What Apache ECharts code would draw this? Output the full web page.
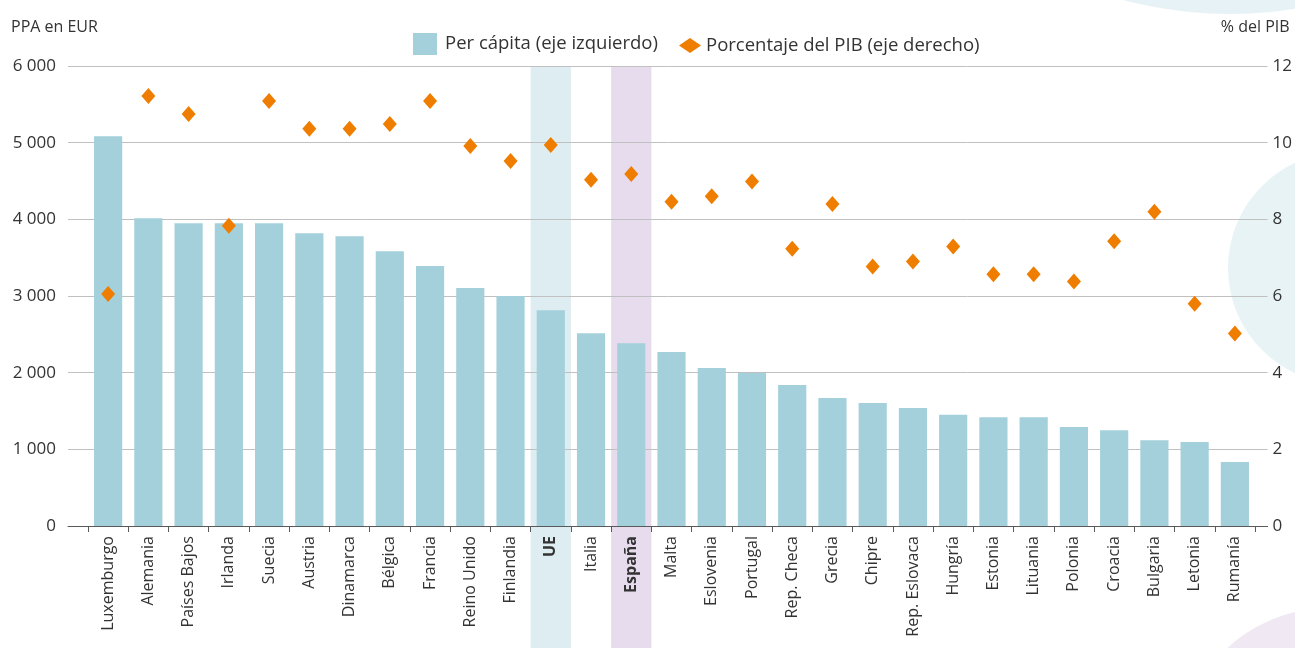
<!DOCTYPE html>
<html>
<head>
<meta charset="utf-8">
<script src="https://cdn.jsdelivr.net/npm/echarts@6/dist/echarts.min.js"></script>
<style>html,body{margin:0;padding:0;background:#fff}#c{width:1295px;height:648px}</style>
</head>
<body>
<div id="c"></div>
<script>
const categories = ['Luxemburgo','Alemania','Países Bajos','Irlanda','Suecia','Austria','Dinamarca','Bélgica','Francia','Reino Unido','Finlandia','UE','Italia','España','Malta','Eslovenia','Portugal','Rep. Checa','Grecia','Chipre','Rep. Eslovaca','Hungría','Estonia','Lituania','Polonia','Croacia','Bulgaria','Letonia','Rumanía'];
const perCapita = [5085,4015,3950,3950,3950,3820,3780,3585,3390,3105,3000,2815,2515,2385,2270,2060,1995,1840,1670,1605,1540,1450,1420,1420,1290,1250,1120,1095,835];
const pctPIB = [6.05,11.22,10.75,7.83,11.09,10.36,10.36,10.49,11.09,9.91,9.52,9.94,9.03,9.18,8.46,8.60,8.99,7.23,8.40,6.77,6.90,7.29,6.57,6.57,6.38,7.43,8.20,5.80,5.02];
const highlighted = ['UE','España'];
const highlightColors = {'UE':'#deedf2','España':'#e7dcee'};
const leftTicks = [0,1000,2000,3000,4000,5000,6000];
const rightTicks = [0,2,4,6,8,10,12];

const FONT = 'Open Sans';
const TXT = '#333333';
const chart = echarts.init(document.getElementById('c'), null, {renderer:'canvas'});

const highlightData = categories.map(c => highlighted.includes(c) ? {value:1, itemStyle:{color:highlightColors[c]}} : null);

chart.setOption({
  backgroundColor:'#ffffff',
  textStyle:{fontFamily:FONT},
  graphic:[
    {type:'circle', shape:{cx:1230, cy:-400, r:414}, style:{fill:'#e6f2f6'}, z:-10, silent:true},
    {type:'circle', shape:{cx:1344, cy:268, r:116}, style:{fill:'#e8f3f6'}, z:-10, silent:true},
    {type:'circle', shape:{cx:1330, cy:760, r:152}, style:{fill:'#f0e9f4'}, z:-10, silent:true}
  ],
  legend:[
    {data:['Per cápita (eje izquierdo)'], left:413, top:33, padding:0, itemWidth:24, itemHeight:22, itemGap:10,
     textStyle:{fontFamily:FONT, fontSize:18.5, color:TXT, padding:[0,0,0,3]}, icon:'rect'},
    {data:['Porcentaje del PIB (eje derecho)'], left:679, top:36, padding:0, itemWidth:22, itemHeight:15,
     textStyle:{fontFamily:FONT, fontSize:18.5, color:TXT}, icon:'diamond'}
  ],
  grid:[
    {left:68, right:27, top:66, bottom:122},
    {left:88, right:40, top:66, bottom:122},
    {left:88, right:40, top:66, bottom:0}
  ],
  xAxis:[
    {gridIndex:0, type:'value', min:0, max:1, axisLine:{show:true, onZero:false, lineStyle:{color:'#595959', width:1}},
     axisTick:{show:false}, axisLabel:{show:false}, splitLine:{show:false}, z:3},
    {gridIndex:1, type:'category', data:categories, axisLine:{show:false},
     axisTick:{show:true, length:6, lineStyle:{color:'#595959'}},
     axisLabel:{rotate:90, margin:10, fontFamily:FONT, fontSize:16, color:TXT,
       formatter:v => highlighted.includes(v) ? '{b|'+v+'}' : v,
       rich:{b:{fontWeight:'bold', fontFamily:FONT, fontSize:16, color:TXT}}}, z:3},
    {gridIndex:2, type:'category', data:categories, show:false}
  ],
  yAxis:[
    {gridIndex:0, type:'value', min:0, max:6000, interval:1000, position:'left',
     name:'PPA en EUR', nameLocation:'end', nameGap:31,
     nameTextStyle:{fontFamily:FONT, fontSize:16, color:TXT, align:'left', padding:[0,0,0,-57]},
     axisLine:{show:false}, axisTick:{show:false},
     axisLabel:{margin:12, fontFamily:FONT, fontSize:17, color:TXT,
       formatter:v => leftTicks.includes(v) ? String(v).replace(/\B(?=(\d{3})+(?!\d))/g,' ') : ''},
     splitLine:{show:true, lineStyle:{color:'#c0c0c0', width:1}}, z:3},
    {gridIndex:0, type:'value', min:0, max:12, interval:2, position:'right',
     name:'% del PIB', nameLocation:'end', nameGap:31,
     nameTextStyle:{fontFamily:FONT, fontSize:16, color:TXT, align:'right', padding:[0,-22,0,0]},
     axisLine:{show:false}, axisTick:{show:false},
     axisLabel:{margin:5, fontFamily:FONT, fontSize:17, color:TXT,
       formatter:v => rightTicks.includes(v) ? String(v) : ''},
     splitLine:{show:false}},
    {gridIndex:1, type:'value', min:0, max:6000, show:false},
    {gridIndex:1, type:'value', min:0, max:12, show:false},
    {gridIndex:2, type:'value', min:0, max:1, show:false}
  ],
  series:[
    {type:'bar', name:'highlight', xAxisIndex:2, yAxisIndex:4, data:highlightData, barWidth:'100%',
     silent:true, z:0, legendHoverLink:false},
    {type:'bar', name:'Per cápita (eje izquierdo)', xAxisIndex:1, yAxisIndex:2, data:perCapita,
     barWidth:'70%', itemStyle:{color:'#a3d0db'}, z:4},
    {type:'scatter', name:'Porcentaje del PIB (eje derecho)', xAxisIndex:1, yAxisIndex:3, data:pctPIB,
     symbol:'diamond', symbolSize:[14,16], itemStyle:{color:'#ee7d00', opacity:1}, z:5}
  ]
});
</script>
</body>
</html>
